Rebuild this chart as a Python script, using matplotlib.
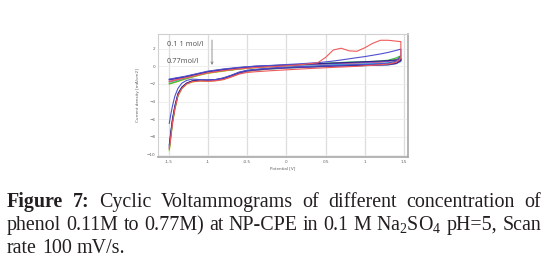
import numpy as np
import matplotlib
matplotlib.use("Agg")
import matplotlib.pyplot as plt

plt.rcParams['mathtext.fontset'] = 'custom'
plt.rcParams['mathtext.rm'] = 'Liberation Serif'
plt.rcParams['mathtext.it'] = 'Liberation Serif:italic'

# potential grids (V) for the anodic (forward) and cathodic (reverse) sweeps
e_fwd = [-1.49, -1.4, -1.3, -1.2, -1.1, -1.0, -0.8, -0.6, -0.4, -0.2, 0.0, 0.2,
         0.4, 0.5, 0.6, 0.7, 0.8, 0.9, 1.0, 1.1, 1.2, 1.3, 1.4, 1.46]
e_rev = [1.46, 1.4, 1.3, 1.1, 0.9, 0.6, 0.3, 0.0, -0.2, -0.4, -0.5, -0.6, -0.7,
         -0.8, -0.9, -1.0, -1.1, -1.2, -1.27, -1.33, -1.38, -1.42, -1.45, -1.47, -1.49]

# current density (mA/cm2), one pair of sweeps per concentration
red_f = [-1.75, -1.55, -1.35, -1.15, -0.95, -0.75, -0.5, -0.3, -0.15, -0.05, 0.05, 0.2,
         0.4, 1.0, 1.85, 2.05, 1.75, 1.7, 2.1, 2.6, 2.95, 2.95, 2.85, 2.8]
red_r = [0.9, 0.45, 0.25, 0.12, 0.0, -0.12, -0.25, -0.4, -0.5, -0.62, -0.7, -0.88, -1.2,
         -1.5, -1.65, -1.7, -1.65, -1.75, -2.0, -2.5, -3.3, -4.8, -6.4, -7.9, -9.3]
blue_f = [-1.45, -1.3, -1.15, -0.95, -0.75, -0.55, -0.3, -0.12, 0.02, 0.1, 0.2, 0.3,
          0.42, 0.5, 0.6, 0.72, 0.85, 0.98, 1.1, 1.25, 1.4, 1.58, 1.8, 1.95]
blue_r = [1.2, 0.6, 0.35, 0.25, 0.2, 0.1, 0.0, -0.1, -0.2, -0.35, -0.45, -0.65, -1.0,
          -1.3, -1.5, -1.55, -1.5, -1.45, -1.6, -1.9, -2.5, -3.4, -4.5, -5.4, -6.45]
navy_f = [-1.5, -1.35, -1.2, -1.0, -0.8, -0.6, -0.35, -0.15, 0.0, 0.08, 0.15, 0.22,
          0.3, 0.33, 0.36, 0.4, 0.44, 0.48, 0.52, 0.56, 0.6, 0.65, 0.72, 0.8]
navy_r = [0.65, 0.35, 0.2, 0.15, 0.1, 0.05, -0.05, -0.15, -0.25, -0.4, -0.5, -0.7, -1.05,
          -1.35, -1.5, -1.55, -1.55, -1.65, -1.9, -2.35, -3.1, -4.5, -6.0, -7.4, -8.9]
purple_f = [-1.55, -1.4, -1.25, -1.05, -0.85, -0.65, -0.4, -0.2, -0.05, 0.05, 0.12, 0.2,
            0.27, 0.3, 0.33, 0.36, 0.39, 0.42, 0.45, 0.48, 0.52, 0.58, 0.7, 0.85]
purple_r = [0.6, 0.3, 0.18, 0.12, 0.08, 0.02, -0.08, -0.18, -0.28, -0.42, -0.52, -0.78, -1.12,
            -1.42, -1.55, -1.6, -1.58, -1.68, -1.92, -2.4, -3.2, -4.7, -6.2, -7.6, -9.1]
green_f = [-2.0, -1.75, -1.45, -1.2, -0.95, -0.75, -0.5, -0.3, -0.12, 0.0, 0.1, 0.2,
           0.3, 0.35, 0.4, 0.44, 0.48, 0.5, 0.52, 0.55, 0.6, 0.7, 0.95, 1.2]
green_r = [0.85, 0.45, 0.3, 0.22, 0.15, 0.08, -0.02, -0.12, -0.22, -0.38, -0.48, -0.72, -1.05,
           -1.38, -1.52, -1.58, -1.6, -1.72, -1.98, -2.45, -3.3, -4.8, -6.4, -7.8, -9.4]
lime_f = [-1.95, -1.7, -1.45, -1.2, -0.98, -0.78, -0.52, -0.3, -0.14, -0.02, 0.08, 0.16,
          0.24, 0.27, 0.3, 0.33, 0.36, 0.39, 0.42, 0.46, 0.5, 0.6, 0.8, 1.05]
lime_r = [0.75, 0.4, 0.25, 0.18, 0.12, 0.05, -0.05, -0.18, -0.28, -0.45, -0.56, -0.82, -1.15,
          -1.45, -1.6, -1.65, -1.65, -1.75, -2.0, -2.5, -3.3, -4.9, -6.5, -8.0, -9.5]
cyan_f = [-1.8, -1.6, -1.35, -1.1, -0.9, -0.7, -0.45, -0.25, -0.1, 0.0, 0.06, 0.12,
          0.16, 0.18, 0.2, 0.22, 0.24, 0.26, 0.28, 0.3, 0.34, 0.42, 0.55, 0.7]
cyan_r = [0.55, 0.3, 0.15, 0.1, 0.05, 0.0, -0.1, -0.2, -0.3, -0.45, -0.55, -0.8, -1.12,
          -1.42, -1.55, -1.6, -1.6, -1.7, -1.95, -2.4, -3.2, -4.6, -6.1, -7.5, -9.0]
magenta_f = [-1.7, -1.5, -1.28, -1.05, -0.85, -0.66, -0.42, -0.22, -0.08, 0.02, 0.1, 0.17,
             0.24, 0.27, 0.3, 0.33, 0.36, 0.39, 0.42, 0.45, 0.49, 0.56, 0.72, 0.9]
magenta_r = [0.7, 0.35, 0.22, 0.16, 0.1, 0.03, -0.07, -0.17, -0.27, -0.43, -0.54, -0.8, -1.15,
             -1.45, -1.58, -1.62, -1.62, -1.7, -1.95, -2.45, -3.25, -4.75, -6.3, -7.7, -9.2]
yellow_f = [-2.0, -1.78, -1.5, -1.25, -1.0, -0.8, -0.55, -0.33, -0.16, -0.04, 0.06, 0.14,
            0.22, 0.26, 0.3, 0.33, 0.36, 0.39, 0.42, 0.45, 0.5, 0.6, 0.82, 1.0]
yellow_r = [0.72, 0.38, 0.24, 0.17, 0.11, 0.04, -0.06, -0.2, -0.3, -0.47, -0.58, -0.85, -1.2,
            -1.5, -1.62, -1.68, -1.68, -1.78, -2.05, -2.55, -3.4, -5.0, -6.6, -8.1, -9.6]

curves = [(yellow_f, yellow_r, '#e4dc28'), (lime_f, lime_r, '#a8d838'),
          (green_f, green_r, '#38b848'), (cyan_f, cyan_r, '#30c0dc'),
          (magenta_f, magenta_r, '#d850a0'), (purple_f, purple_r, '#9050c0'),
          (navy_f, navy_r, '#28288c'), (blue_f, blue_r, '#5050d0'),
          (red_f, red_r, '#f05a5a')]

xticks = [-1.5, -1, -0.5, 0, 0.5, 1, 1.5]
xticklabels = ['-1.5', '-1', '-0.5', '0', '0.5', '1', '1.5']
yticks = [2, 0, -2, -4, -6, -8, -10]

W, H = 548, 273
fig = plt.figure(figsize=(W / 100, H / 100), dpi=100)
ax = fig.add_axes([158 / W, 1 - 157 / H, 250 / W, 123 / H])

for f, r, c in curves:
    ax.plot(e_fwd + e_rev, f + r, color=c, lw=0.8)

ax.set_xlim(-1.634, 1.551)
ax.set_ylim(-10.27, 3.66)
ax.set_xticks(xticks)
ax.set_xticklabels(xticklabels)
ax.set_yticks(yticks)
ax.tick_params(length=0, labelsize=3, labelcolor='#606060', pad=2)
ax.grid(True, axis='x', color='#dcdcdc', lw=0.9)
ax.grid(True, axis='y', color='#ececec', lw=0.6)
ax.set_axisbelow(True)
for side in ['left', 'top']:
    ax.spines[side].set_color('#d0d0d0')
    ax.spines[side].set_linewidth(0.8)
for side in ['right', 'bottom']:
    ax.spines[side].set_color('#a8a8a8')
    ax.spines[side].set_linewidth(1.2)
ax.set_xlabel('Potential [V]', fontsize=3, color='#606060', labelpad=2)
ax.set_ylabel('Current density [mA/cm2]', fontsize=3, color='#606060', labelpad=5)

ax.text(-1.523, 2.45, '0.1 1 mol/l', fontsize=5.4, family='Open Sans',
        color='#505050', va='center')
ax.text(-1.523, 0.5, '0.77mol/l', fontsize=5.4, family='Open Sans',
        color='#505050', va='center')
ax.annotate('', xy=(-0.946, 0.15), xytext=(-0.946, 2.98),
            arrowprops=dict(arrowstyle='->', color='#808080', lw=0.6,
                            shrinkA=0, shrinkB=0, mutation_scale=4))

# caption, justified like the journal layout
fs = 14.4
ink = '#231f20'
r = fig.canvas.get_renderer()


def line(words, base, justify=True, bold=()):
    objs = []
    for i, w in enumerate(words):
        t = fig.text(0, 1 - base / H, w, fontsize=fs, family='Liberation Serif',
                     fontweight='bold' if i in bold else 'normal',
                     color=ink, va='baseline')
        objs.append(t)
    widths = [t.get_window_extent(r).width for t in objs]
    if justify:
        gap = (541 - 7 - sum(widths)) / (len(objs) - 1)
    else:
        gap = fs * 0.25 * 100 / 72
    x = 7
    for t, w in zip(objs, widths):
        t.set_x(x / W)
        x += w + gap


line(['Figure', '7:', 'Cyclic', 'Voltammograms', 'of', 'different',
      'concentration', 'of'], 207, bold=(0, 1))
line(['phenol', '0.11M', 'to', '0.77M)', 'at', 'NP-CPE', 'in', '0.1', 'M',
      r'Na$_2$SO$_4$', 'pH=5,', 'Scan'], 230)
line(['rate', '100', 'mV/s.'], 253, justify=False)

fig.savefig('out.png', dpi=100)
